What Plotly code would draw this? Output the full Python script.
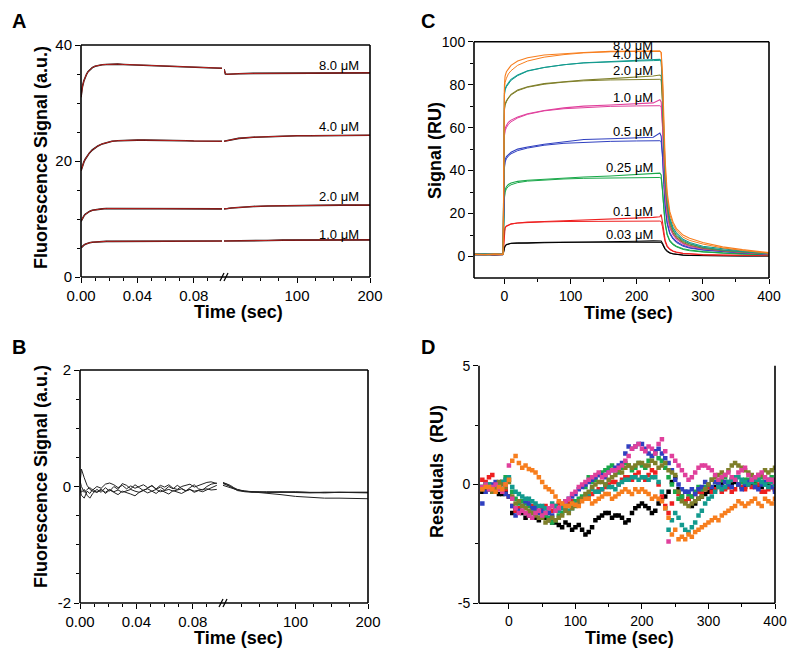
import plotly.graph_objects as go

# The page body has an 8 px margin, so the figure is 784x640 and placed at (8, 8).
OFF = 8
W, H = 784, 640
FONT = "Liberation Sans, Arial, Helvetica, sans-serif"

# ---------------- Panel A : stopped-flow fluorescence (split time axis) ----------------
A_T_LEFT = [0, 0.0005, 0.001, 0.002, 0.003, 0.004, 0.005, 0.006, 0.008, 0.010,
            0.012, 0.015, 0.018, 0.022, 0.026, 0.030, 0.035, 0.040, 0.045, 0.050,
            0.055, 0.060, 0.065, 0.070, 0.075, 0.080, 0.085, 0.090, 0.1]
A_T_RIGHT = [0, 2, 5, 10, 20, 40, 60, 80, 100, 120, 140, 160, 180, 200]
A_LABELS = ["8.0 μM", "4.0 μM", "2.0 μM", "1.0 μM"]
A_LABEL_Y = [36.4, 25.9, 13.9, 7.4]

A8_L = [31.0, 32.0, 32.8, 33.8, 34.5, 35.0, 35.4, 35.7, 36.1, 36.35,
        36.5, 36.6, 36.65, 36.7, 36.7, 36.65, 36.6, 36.55, 36.5, 36.45,
        36.4, 36.35, 36.3, 36.25, 36.2, 36.15, 36.1, 36.05, 36.0]
A4_L = [18.3, 18.8, 19.2, 19.8, 20.3, 20.7, 21.1, 21.4, 21.9, 22.3,
        22.6, 22.95, 23.2, 23.4, 23.5, 23.55, 23.6, 23.6, 23.6, 23.6,
        23.6, 23.55, 23.55, 23.5, 23.5, 23.45, 23.45, 23.4, 23.4]
A2_L = [9.6, 9.9, 10.1, 10.5, 10.8, 11.0, 11.2, 11.3, 11.5, 11.6,
        11.7, 11.75, 11.8, 11.8, 11.85, 11.85, 11.85, 11.85, 11.85, 11.85,
        11.85, 11.8, 11.8, 11.8, 11.8, 11.75, 11.75, 11.75, 11.75]
A1_L = [5.0, 5.15, 5.3, 5.5, 5.65, 5.75, 5.85, 5.9, 6.0, 6.05,
        6.1, 6.1, 6.15, 6.15, 6.15, 6.15, 6.15, 6.15, 6.15, 6.15,
        6.15, 6.15, 6.15, 6.15, 6.15, 6.15, 6.2, 6.2, 6.2]

A8_R = [35.8, 35.0, 34.95, 35.0, 35.05, 35.1, 35.1, 35.1, 35.15, 35.15, 35.15, 35.2, 35.2, 35.2]
A4_R = [23.4, 23.45, 23.55, 23.7, 23.9, 24.1, 24.2, 24.3, 24.35, 24.35, 24.4, 24.4, 24.45, 24.45]
A2_R = [11.75, 11.75, 11.8, 11.9, 12.0, 12.15, 12.25, 12.3, 12.35, 12.35, 12.4, 12.4, 12.4, 12.4]
A1_R = [6.2, 6.2, 6.2, 6.25, 6.25, 6.3, 6.3, 6.35, 6.35, 6.35, 6.4, 6.4, 6.4, 6.4]

# ---------------- Panel B : residuals of the stopped-flow fits ----------------
B_T_LEFT = [0, 0.001, 0.003, 0.005, 0.007, 0.009, 0.012, 0.015, 0.018, 0.021,
            0.024, 0.027, 0.030, 0.033, 0.036, 0.039, 0.042, 0.045, 0.048, 0.051,
            0.054, 0.057, 0.060, 0.063, 0.066, 0.069, 0.072, 0.075, 0.078, 0.081,
            0.084, 0.087, 0.090, 0.093, 0.097]
B_T_RIGHT = [0, 5, 10, 15, 20, 30, 40, 50, 60, 80, 100, 120, 140, 160, 180, 200]

B1_L = [0.05, 0.3, 0.15, 0.02, -0.05, -0.08, -0.1, -0.06, -0.1, -0.05,
        -0.09, -0.06, -0.1, -0.07, -0.05, -0.08, -0.1, -0.06, -0.04, -0.08,
        -0.05, -0.09, -0.07, -0.05, -0.08, -0.06, -0.04, -0.07, -0.05, -0.08,
        -0.06, -0.05, -0.04, -0.06, -0.05]
B2_L = [0.0, -0.1, -0.05, -0.15, -0.2, -0.12, -0.05, -0.1, -0.02, -0.08,
        0.0, -0.05, 0.05, 0.02, -0.04, 0.03, -0.02, -0.07, -0.03, 0.02,
        -0.05, -0.01, -0.06, 0.0, -0.04, 0.02, -0.03, -0.08, -0.02, 0.03,
        -0.04, -0.06, 0.0, 0.04, 0.06]
B3_L = [-0.05, -0.15, -0.2, -0.08, -0.12, -0.05, -0.1, -0.04, -0.12, -0.06,
        -0.1, -0.14, -0.08, -0.1, -0.13, -0.16, -0.1, -0.07, -0.11, -0.08,
        -0.12, -0.06, -0.09, -0.13, -0.07, -0.1, -0.12, -0.08, -0.05, -0.1,
        -0.07, -0.09, -0.06, -0.03, 0.02]
B4_L = [0.1, 0.0, -0.1, -0.05, -0.02, -0.06, 0.0, -0.03, 0.04, 0.06,
        0.03, -0.02, 0.02, -0.04, 0.01, -0.03, 0.0, 0.03, -0.02, 0.01,
        -0.04, 0.02, -0.01, 0.03, -0.03, -0.05, 0.0, 0.02, 0.04, -0.01,
        0.02, 0.05, 0.07, 0.08, 0.05]

B1_R = [0.06, 0.04, 0.0, -0.04, -0.07, -0.09, -0.1, -0.09, -0.1, -0.1, -0.09, -0.1, -0.1, -0.09, -0.1, -0.1]
B2_R = [0.07, 0.05, 0.02, -0.02, -0.05, -0.08, -0.09, -0.1, -0.09, -0.1, -0.1, -0.11, -0.1, -0.1, -0.11, -0.1]
B3_R = [0.02, 0.0, -0.03, -0.05, -0.06, -0.08, -0.09, -0.1, -0.11, -0.14, -0.17, -0.19, -0.2, -0.2, -0.21, -0.21]
B4_R = [0.05, 0.03, 0.0, -0.03, -0.06, -0.08, -0.09, -0.09, -0.1, -0.09, -0.1, -0.1, -0.11, -0.1, -0.1, -0.11]

# ---------------- Panel C : SPR sensorgrams (data + fit) ----------------
C_T = [-45, -30, -15, -2, 0, 1, 3, 6, 10, 20, 35, 60, 90, 120, 160, 200, 225, 235,
       237, 239, 241, 243, 246, 250, 255, 260, 270, 280, 300, 330, 360, 400]
C_LABELS = ["0.03 μM", "0.1 μM", "0.25 μM", "0.5 μM", "1.0 μM", "2.0 μM", "4.0 μM", "8.0 μM"]
C_LABEL_Y = [10.3, 20.9, 41.5, 58.4, 74.0, 86.4, 94.0, 98.0]
C_COLORS = ["#000000", "#ee2020", "#1aa84a", "#3040c0", "#e0409c", "#7f7f2a", "#139a8e", "#f77e1e"]

C003_D = [0.8, 1.0, 0.7, 0.9, 4, 5, 5.6, 6, 6.2, 6.3, 6.2, 6.4, 6.5, 6.6, 6.8, 7.1, 7.3, 7.5,
          7.2, 6.2, 4.8, 3.6, 2.6, 1.8, 1.3, 1.0, 0.7, 0.5, 0.4, 0.3, 0.3, 0.3]
C003_F = [0.8, 0.8, 0.8, 0.8, 3.8, 4.8, 5.4, 5.8, 6.1, 6.3, 6.5, 6.6, 6.7, 6.75, 6.8, 6.8, 6.8, 6.8,
          6.6, 5.6, 4.3, 3.2, 2.3, 1.6, 1.2, 0.9, 0.6, 0.5, 0.4, 0.3, 0.3, 0.3]
C01_D = [1.2, 1.0, 0.8, 1.0, 12, 13.5, 14.2, 14.8, 15.2, 15.6, 16, 16.3, 16.6, 16.9, 17.3, 17.8, 18.2, 18.5,
         19.5, 16, 11, 7.5, 5, 3.5, 2.6, 2.1, 1.5, 1.2, 0.9, 0.7, 0.6, 0.5]
C01_F = [1.0, 1.0, 1.0, 1.0, 11.5, 13.2, 14, 14.6, 15.1, 15.6, 15.9, 16.1, 16.3, 16.4, 16.5, 16.5, 16.5, 16.5,
         16.3, 13.8, 9.8, 6.8, 4.5, 3.2, 2.4, 1.9, 1.4, 1.1, 0.8, 0.6, 0.5, 0.4]
C025_D = [1.0, 1.1, 0.9, 1.0, 28, 31, 32.5, 33.5, 34.2, 35, 35.5, 36, 36.5, 37, 37.5, 38.3, 38.5, 38.8,
          38.0, 32, 23, 16, 10.5, 7.5, 5.8, 4.8, 3.6, 3, 2.3, 1.7, 1.3, 0.9]
C025_F = [1.0, 1.0, 1.0, 1.0, 27, 30, 31.5, 32.6, 33.4, 34.4, 35.1, 35.7, 36.1, 36.4, 36.6, 36.7, 36.8, 36.8,
          36.4, 31, 22, 15, 10, 7, 5.4, 4.5, 3.3, 2.7, 2.1, 1.5, 1.1, 0.8]
C05_D = [1.0, 0.9, 1.2, 1.0, 42, 45, 46.5, 47.5, 48.5, 50, 51, 52.3, 53.5, 54.5, 54.8, 55.2, 55.5, 57.5,
         56.0, 48, 35, 24, 16, 11, 8.5, 7, 5.2, 4.2, 3.2, 2.4, 1.8, 1.2]
C05_F = [1.0, 1.0, 1.0, 1.0, 41, 44, 45.5, 46.8, 47.8, 49.3, 50.5, 51.8, 52.7, 53.2, 53.6, 53.8, 53.9, 53.9,
         53.5, 46, 33.5, 23, 15.3, 10.5, 8, 6.5, 4.8, 3.9, 3, 2.2, 1.6, 1.0]
C1_D = [1.0, 1.2, 0.8, 1.0, 57, 59.5, 61, 62.5, 63.5, 65, 66.5, 68, 69.2, 70, 70.5, 71, 71.5, 73,
        72.0, 62, 45, 31, 20.5, 14, 10.5, 8.5, 6.2, 5, 3.8, 2.8, 2, 1.3]
C1_F = [1.0, 1.0, 1.0, 1.0, 56, 58.5, 60, 61.5, 62.7, 64.5, 66.2, 67.8, 68.8, 69.4, 69.9, 70.1, 70.2, 70.2,
        69.7, 60, 43, 29.5, 19.5, 13.2, 10, 8, 5.8, 4.7, 3.5, 2.5, 1.8, 1.1]
C2_D = [1.2, 0.9, 1.1, 1.0, 69, 71, 72.5, 74, 75.5, 77.5, 79, 80.5, 81.5, 82.2, 82.8, 83.5, 84, 84.5,
        84.0, 73, 53, 36, 24, 16, 12, 9.5, 7, 5.8, 4.2, 3, 2.2, 1.4]
C2_F = [1.0, 1.0, 1.0, 1.0, 68, 70.5, 72, 73.8, 75.2, 77.2, 78.8, 80.2, 81.2, 81.8, 82.2, 82.4, 82.5, 82.5,
        82.0, 71, 51, 34, 22.5, 15, 11, 8.8, 6.5, 5.3, 3.8, 2.7, 2, 1.2]
C4_D = [1.0, 1.3, 0.9, 1.1, 76, 78, 79.5, 81, 82.5, 84.5, 86.5, 88, 89.3, 90.2, 90.8, 91.2, 91.5, 91.8,
        91.0, 80, 58, 40, 27, 18, 13.5, 11, 8, 6.5, 4.8, 3.5, 2.5, 1.5]
C4_F = [1.0, 1.0, 1.0, 1.0, 75, 77.5, 79, 80.5, 82, 84.2, 86.3, 88, 89.3, 90.1, 90.7, 91.0, 91.2, 91.3,
        90.8, 78, 56, 38, 25.5, 17, 12.5, 10, 7.5, 6, 4.3, 3, 2.2, 1.3]
C8_D = [1.0, 0.8, 1.2, 1.0, 80, 84, 86, 87.5, 89, 91, 92.5, 93.8, 94.5, 95, 95.5, 95.6, 95.5, 95.6,
        95.0, 85, 65, 45, 30, 21, 16, 13, 10, 8.5, 6.5, 4.5, 3.2, 1.8]
C8_F = [1.0, 1.0, 1.0, 1.0, 78, 81, 83, 85, 86.5, 89, 91, 92.8, 94, 94.8, 95.3, 95.5, 95.6, 95.6,
        95.0, 82, 60, 42, 28, 19.5, 15, 12, 9, 7.5, 5.8, 4, 2.8, 1.5]

# ---------------- Panel D : residuals of SPR fits ----------------
D_T = [-40, -30, -20, -10, 0, 10, 20, 30, 40, 50, 60, 70, 80, 90, 100, 110, 120, 130, 140, 150,
       160, 170, 180, 190, 200, 210, 220, 230, 240, 250, 260, 270, 280, 290, 300, 310, 320, 330,
       340, 350, 360, 370, 380, 390, 400]
D_T_MID = [-35, -25, -15, -5, 5, 15, 25, 35, 45, 55, 65, 75, 85, 95, 105, 115, 125, 135, 145, 155,
           165, 175, 185, 195, 205, 215, 225, 235, 245, 255, 265, 275, 285, 295, 305, 315, 325, 335,
           345, 355, 365, 375, 385, 395]

D_BLACK = [-0.3, -0.2, -0.3, -0.4, -0.5, -1.0, -1.2, -1.3, -1.4, -1.3,
           -1.5, -1.6, -1.8, -1.7, -1.8, -1.9, -2.0, -1.5, -1.3, -1.2,
           -1.3, -1.4, -1.5, -1.0, -0.8, -1.0, -1.1, -0.6, -0.3, 0.3,
           -0.5, -0.6, -0.8, -0.5, -0.3, -0.1, 0.0, -0.1, 0.1, -0.1,
           0.0, 0.1, -0.1, 0.0, -0.2]
D_BLACK_MID = [-0.2, -0.3, -0.4, -0.3, -1.2, -1.1, -1.4, -1.2, -1.5, -1.4,
               -1.6, -1.7, -1.6, -1.9, -1.7, -2.1, -1.8, -1.4, -1.2, -1.4,
               -1.3, -1.6, -1.2, -0.9, -0.9, -1.2, -0.8, -0.5, 0.1, -0.2,
               -0.7, -0.9, -0.6, -0.4, -0.2, 0.0, -0.1, 0.0, 0.0, -0.1,
               0.0, -0.1, 0.1, -0.1]
D_RED = [0.2, 0.3, 0.0, 0.1, -0.5, -1.1, -0.9, -0.8, -0.9, -1.0,
         -1.0, -0.9, -0.9, -0.8, -0.7, -0.6, -0.5, -0.3, -0.2, 0.0,
         0.1, 0.2, 0.3, 0.4, 0.3, 0.4, 0.5, -0.5, -1.2, -0.3,
         -0.5, -0.6, -0.4, -0.3, -0.1, -0.2, -0.3, -0.1, -0.2, -0.1,
         0.0, -0.1, -0.3, -0.2, -0.2]
D_RED_MID = [0.1, 0.4, 0.0, -0.2, -0.9, -1.0, -0.7, -0.9, -1.1, -0.9,
             -1.1, -0.8, -1.0, -0.7, -0.8, -0.5, -0.4, -0.2, -0.1, 0.1,
             0.0, 0.3, 0.2, 0.5, 0.2, 0.6, 0.0, -0.9, -0.8, -0.4,
             -0.7, -0.5, -0.3, -0.2, -0.3, -0.1, -0.2, -0.3, 0.0, -0.2,
             -0.1, 0.0, -0.3, -0.1]
D_GREEN = [-0.1, 0.0, -0.2, 0.1, 0.2, -0.6, -0.7, -0.9, -1.1, -1.2,
           -1.4, -1.5, -1.2, -0.9, -0.7, -0.5, 0.3, 0.2, 0.5, 0.7,
           0.6, 0.7, 0.8, 0.7, 0.8, 1.0, 1.3, 1.0, 0.3, -0.3,
           -0.5, -0.4, -0.3, -0.2, 0.0, 0.1, 0.2, 0.1, 0.3, 0.1,
           0.2, 0.0, 0.3, 0.1, 0.2]
D_GREEN_MID = [0.0, -0.1, 0.0, 0.3, -0.3, -0.8, -0.8, -1.0, -1.2, -1.3,
               -1.6, -1.3, -1.1, -0.8, -0.6, -0.1, 0.1, 0.4, 0.6, 0.8,
               0.5, 0.9, 0.6, 0.9, 0.7, 1.2, 1.1, 0.7, 0.0, -0.6,
               -0.3, -0.5, -0.1, -0.1, 0.2, 0.0, 0.3, 0.2, 0.0, 0.2,
               0.1, 0.2, 0.0, 0.3]
D_BLUE = [-0.8, -0.1, 0.1, -0.2, -0.5, -1.3, -0.9, -0.8, -1.0, -1.1,
          -1.2, -1.1, -0.9, -0.6, -0.4, -0.1, 0.1, 0.3, 0.4, 0.5,
          0.7, 0.9, 1.6, 1.6, 1.7, 1.3, 1.4, 1.3, 0.9, 0.2,
          -0.2, -0.3, -0.4, -0.1, 0.0, 0.1, -0.1, 0.0, 0.2, -0.2,
          0.1, -0.1, 0.0, 0.2, -0.3]
D_BLUE_MID = [-0.3, 0.0, -0.1, -0.4, -0.9, -1.1, -0.7, -1.0, -1.2, -1.0,
              -1.3, -1.0, -0.7, -0.5, -0.2, 0.0, 0.2, 0.4, 0.3, 0.6,
              0.8, 1.3, 1.5, 1.7, 1.5, 1.2, 1.5, 1.1, 0.6, 0.0,
              -0.3, -0.2, -0.2, 0.1, -0.1, 0.0, 0.1, -0.1, 0.0, 0.0,
              0.2, -0.2, 0.1, -0.1]
D_MAGENTA = [-0.1, -0.2, 0.0, -0.3, 0.8, -1.0, -1.1, -1.3, -1.2, -1.3,
             -1.0, -1.1, -0.8, -0.6, -0.3, 0.0, 0.2, 0.4, 0.3, 0.5,
             0.6, 0.8, 1.2, 1.6, 1.5, 1.6, 1.3, 1.9, -2.4, 1.0,
             0.6, 0.2, 0.5, 0.8, 0.7, 0.4, 0.3, 0.5, 0.2, 0.6,
             0.4, 0.3, 0.5, 0.2, 0.1]
D_MAGENTA_MID = [0.0, -0.1, -0.2, 0.0, -0.6, -1.2, -1.2, -1.4, -1.1, -1.2,
                 -0.9, -1.0, -0.7, -0.4, -0.1, 0.1, 0.3, 0.5, 0.4, 0.6,
                 0.7, 1.0, 1.5, 1.7, 1.4, 1.5, 1.7, 1.4, 1.2, 0.8,
                 0.4, 0.3, 0.7, 0.8, 0.6, 0.2, 0.4, 0.3, 0.5, 0.7,
                 0.2, 0.4, 0.3, 0.2]
D_OLIVE = [-0.2, -0.1, -0.2, 0.0, 0.1, -0.8, -0.9, -1.1, -1.3, -1.4,
           -1.5, -1.5, -1.3, -1.2, -0.9, -0.6, -0.3, 0.0, 0.1, 0.2,
           0.4, 0.5, 0.8, 0.8, 0.9, 0.8, 0.9, 0.8, 0.6, 0.4,
           -0.7, -0.9, -0.7, -0.5, 0.0, 0.3, 0.5, 0.6, 0.9, 0.7,
           0.5, 0.3, 0.4, 0.5, 0.7]
D_OLIVE_MID = [-0.1, -0.3, 0.1, -0.1, -0.5, -0.7, -1.0, -1.2, -1.4, -1.6,
               -1.4, -1.4, -1.1, -1.0, -0.7, -0.4, -0.1, 0.1, 0.0, 0.3,
               0.6, 0.7, 0.7, 0.9, 0.8, 1.0, 0.7, 0.9, 0.5, -0.3,
               -0.8, -0.8, -0.6, -0.2, 0.2, 0.4, 0.4, 0.8, 0.8, 0.6,
               0.4, 0.4, 0.6, 0.6]
D_TEAL = [-0.1, 0.0, -0.2, 0.1, 0.3, -0.3, -0.5, -0.6, -0.8, -0.9,
          -1.0, -0.9, -1.0, -1.1, -0.8, -0.6, -0.4, -0.3, -0.2, -0.1,
          -0.2, 0.1, 0.2, 0.3, 0.3, 0.2, 0.3, -0.3, -1.9, -1.2,
          -1.7, -2.0, -1.6, -1.1, -0.6, -0.3, -0.2, 0.1, 0.3, 0.2,
          0.0, 0.2, 0.1, -0.1, 0.0]
D_TEAL_MID = [0.0, -0.1, 0.0, 0.2, -0.1, -0.4, -0.6, -0.7, -0.9, -1.0,
              -0.8, -1.1, -0.9, -1.0, -0.7, -0.5, -0.2, -0.3, 0.0, -0.1,
              0.0, 0.2, 0.3, 0.2, 0.3, 0.3, 0.1, -1.0, -1.5, -1.4,
              -1.9, -1.8, -1.3, -0.8, -0.5, -0.1, -0.1, 0.2, 0.3, 0.1,
              0.1, 0.2, 0.0, 0.1]
D_ORANGE = [-0.2, -0.1, -0.3, -0.2, 0.2, 1.2, 0.7, 0.65, 0.5, 0.1,
            -0.2, -0.5, -0.8, -0.9, -0.85, -0.7, -0.6, -0.7, -0.5, -0.4,
            -0.5, -0.3, -0.3, -0.2, -0.2, -0.4, -0.5, -0.7, -1.4, -1.9,
            -2.2, -2.1, -2.0, -1.8, -1.6, -1.4, -1.3, -1.1, -0.9, -0.8,
            -0.8, -0.6, -0.9, -0.7, -0.6]
D_ORANGE_MID = [-0.1, -0.2, -0.1, 0.0, 1.0, 0.9, 0.8, 0.6, 0.3, -0.1,
                -0.3, -0.7, -0.9, -0.8, -0.9, -0.6, -0.8, -0.6, -0.4, -0.6,
                -0.4, -0.2, -0.4, -0.3, -0.3, -0.6, -0.6, -1.0, -2.1, -2.3,
                -2.3, -2.2, -1.9, -1.7, -1.5, -1.5, -1.2, -1.0, -0.7, -0.9,
                -0.7, -0.8, -0.6, -0.8]


def fx(p):
    return (p - OFF) / W


def fy(p):
    return 1 - (p - OFF) / H


fig = go.Figure()

# Panel A traces
for left, right in [(A8_L, A8_R), (A4_L, A4_R), (A2_L, A2_R), (A1_L, A1_R)]:
    fig.add_trace(go.Scatter(x=A_T_LEFT, y=left, xaxis="x", yaxis="y", mode="lines",
                             line=dict(color="#111111", width=1.6)))
    fig.add_trace(go.Scatter(x=A_T_LEFT, y=left, xaxis="x", yaxis="y", mode="lines",
                             line=dict(color="#e8231f", width=0.8)))
    fig.add_trace(go.Scatter(x=A_T_RIGHT, y=right, xaxis="x2", yaxis="y", mode="lines",
                             line=dict(color="#111111", width=1.6)))
    fig.add_trace(go.Scatter(x=A_T_RIGHT, y=right, xaxis="x2", yaxis="y", mode="lines",
                             line=dict(color="#e8231f", width=0.8)))

# Panel B traces
for left, right in [(B1_L, B1_R), (B2_L, B2_R), (B3_L, B3_R), (B4_L, B4_R)]:
    fig.add_trace(go.Scatter(x=B_T_LEFT, y=left, xaxis="x3", yaxis="y2", mode="lines",
                             line=dict(color="#222222", width=1)))
    fig.add_trace(go.Scatter(x=B_T_RIGHT, y=right, xaxis="x4", yaxis="y2", mode="lines",
                             line=dict(color="#222222", width=1)))

# Panel C traces
C_DATA = [C003_D, C01_D, C025_D, C05_D, C1_D, C2_D, C4_D, C8_D]
C_FIT = [C003_F, C01_F, C025_F, C05_F, C1_F, C2_F, C4_F, C8_F]
for d, f, col in zip(C_DATA, C_FIT, C_COLORS):
    fig.add_trace(go.Scatter(x=C_T, y=f, xaxis="x5", yaxis="y3", mode="lines",
                             line=dict(color=col, width=1)))
    fig.add_trace(go.Scatter(x=C_T, y=d, xaxis="x5", yaxis="y3", mode="lines",
                             line=dict(color=col, width=1.1)))

# Panel D traces
D_SERIES = [(D_BLACK, D_BLACK_MID, "#000000"), (D_RED, D_RED_MID, "#ee2020"),
            (D_GREEN, D_GREEN_MID, "#1aa84a"), (D_BLUE, D_BLUE_MID, "#3040c0"),
            (D_TEAL, D_TEAL_MID, "#139a8e"), (D_OLIVE, D_OLIVE_MID, "#7f7f2a"),
            (D_MAGENTA, D_MAGENTA_MID, "#e0409c"), (D_ORANGE, D_ORANGE_MID, "#f77e1e")]
for vals, mid, col in D_SERIES:
    fig.add_trace(go.Scatter(x=D_T + D_T_MID, y=vals + mid, xaxis="x6", yaxis="y4", mode="markers",
                             marker=dict(symbol="square", size=4.5, color=col, line=dict(width=0))))

TICKFONT_AB = dict(family=FONT, size=15, color="black")
TICKFONT_CD = dict(family=FONT, size=14, color="black")
common = dict(showgrid=False, zeroline=False, showline=False, ticks="outside", ticklen=5,
              tickwidth=1.3, tickcolor="black", automargin=False)


def minor(**kw):
    d = dict(ticks="outside", ticklen=3, tickwidth=1.1, tickcolor="black", showgrid=False)
    d.update(kw)
    return d


layout = dict(
    template="none",
    width=W, height=H, margin=dict(l=0, r=0, t=0, b=0, pad=0),
    paper_bgcolor="white", plot_bgcolor="white", showlegend=False,
    font=dict(family=FONT, color="black"),
    # Panel A
    xaxis=dict(domain=[fx(81), fx(222)], range=[0, 0.1], anchor="y", tickmode="array",
               tickvals=[0, 0.04, 0.08], ticktext=["0.00", "0.04", "0.08"], tickfont=TICKFONT_AB,
               minor=minor(tickmode="array", tickvals=[0.01, 0.02, 0.03, 0.05, 0.06, 0.07, 0.09]), **common),
    xaxis2=dict(domain=[fx(224), fx(370)], range=[0, 200], anchor="y", tickmode="array",
                tickvals=[100, 200], ticktext=["100", "200"], tickfont=TICKFONT_AB,
                minor=minor(tickmode="array", tickvals=[25, 50, 75, 125, 150, 175]), **common),
    yaxis=dict(domain=[fy(277), fy(45)], range=[0, 40], anchor="x", tickmode="array",
               tickvals=[0, 20, 40], ticktext=["0", "20", "40"], tickfont=TICKFONT_AB,
               minor=minor(tickmode="array", tickvals=[5, 10, 15, 25, 30, 35]), **common),
    # Panel B
    xaxis3=dict(domain=[fx(80), fx(221)], range=[0, 0.1], anchor="y2", tickmode="array",
                tickvals=[0, 0.04, 0.08], ticktext=["0.00", "0.04", "0.08"], tickfont=TICKFONT_AB,
                minor=minor(tickmode="array", tickvals=[0.01, 0.02, 0.03, 0.05, 0.06, 0.07, 0.09]), **common),
    xaxis4=dict(domain=[fx(223), fx(368)], range=[0, 200], anchor="y2", tickmode="array",
                tickvals=[100, 200], ticktext=["100", "200"], tickfont=TICKFONT_AB,
                minor=minor(tickmode="array", tickvals=[25, 50, 75, 125, 150, 175]), **common),
    yaxis2=dict(domain=[fy(603), fy(370)], range=[-2, 2], anchor="x3", tickmode="array",
                tickvals=[-2, 0, 2], ticktext=["-2", "0", "2"], tickfont=TICKFONT_AB,
                minor=minor(tickmode="array", tickvals=[-1.5, -1, -0.5, 0.5, 1, 1.5]), **common),
    # Panel C
    xaxis5=dict(domain=[fx(474), fx(769)], range=[-46, 400], anchor="y3", tickmode="array",
                tickvals=[0, 100, 200, 300, 400], ticktext=["0", "100", "200", "300", "400"],
                tickfont=TICKFONT_CD, minor=minor(tickmode="array", tickvals=[50, 150, 250, 350]), **common),
    yaxis3=dict(domain=[fy(278), fy(41.7)], range=[-10, 100], anchor="x5", tickmode="array",
                tickvals=[0, 20, 40, 60, 80, 100], ticktext=["0", "20", "40", "60", "80", "100"],
                tickfont=TICKFONT_CD, minor=minor(tickmode="array", tickvals=[10, 30, 50, 70, 90]), **common),
    # Panel D
    xaxis6=dict(domain=[fx(479), fx(775)], range=[-45, 400], anchor="y4", tickmode="array",
                tickvals=[0, 100, 200, 300, 400], ticktext=["0", "100", "200", "300", "400"],
                tickfont=TICKFONT_CD, minor=minor(tickmode="array", tickvals=[50, 150, 250, 350]), **common),
    yaxis4=dict(domain=[fy(603.3), fy(365.7)], range=[-5, 5], anchor="x6", tickmode="array",
                tickvals=[-5, 0, 5], ticktext=["-5", "0", "5"],
                tickfont=TICKFONT_CD, minor=minor(tickmode="array", tickvals=[-2.5, 2.5]), **common),
)
fig.update_layout(**layout)

LW = 1.6
shapes = []


def frame(x0, y0, x1, y1, top=True):
    segs = [(x0, y0, x0, y1), (x0, y1, x1, y1), (x1, y0, x1, y1)]
    if top:
        segs.append((x0, y0, x1, y0))
    for a, b, c, d in segs:
        shapes.append(dict(type="line", xref="paper", yref="paper", x0=fx(a), y0=fy(b), x1=fx(c), y1=fy(d),
                           line=dict(color="black", width=LW)))


frame(81, 45, 370, 277)
frame(80, 370, 368, 603)
frame(474, 41.7, 769, 278)
frame(479, 365.7, 775, 603.3, top=False)

# axis-break marks "//"
for (bx, by) in [(220, 277), (219, 603)]:
    for dx in (0, 4):
        shapes.append(dict(type="line", xref="paper", yref="paper",
                           x0=fx(bx + dx), y0=fy(by + 4), x1=fx(bx + dx + 4), y1=fy(by - 4),
                           line=dict(color="black", width=1.3)))
fig.update_layout(shapes=shapes)

ann = []
# concentration labels
for lab, yv in zip(A_LABELS, A_LABEL_Y):
    ann.append(dict(x=188, y=yv, xref="x2", yref="y", text=lab, showarrow=False, xanchor="right",
                    yanchor="middle", font=dict(family=FONT, size=13, color="black")))
for lab, yv in zip(C_LABELS, C_LABEL_Y):
    ann.append(dict(x=228, y=yv, xref="x5", yref="y3", text=lab, showarrow=False, xanchor="right",
                    yanchor="middle", font=dict(family=FONT, size=13, color="black")))


def pann(text, x, y, angle=0, size=18):
    ann.append(dict(x=fx(x), y=fy(y), xref="paper", yref="paper", text=text, showarrow=False,
                    xanchor="center", yanchor="middle", textangle=angle,
                    font=dict(family=FONT, size=size, color="black")))


pann("<b>Time (sec)</b>", 238, 312)
pann("<b>Time (sec)</b>", 238, 638)
pann("<b>Time (sec)</b>", 628, 313)
pann("<b>Time (sec)</b>", 629, 638)
pann("<b>Fluorescence Signal (a.u.)</b>", 41, 158, -90)
pann("<b>Fluorescence Signal (a.u.)</b>", 41, 477, -90)
pann("<b>Signal (RU)</b>", 435, 150, -90)
pann("<b>Residuals  (RU)</b>", 437, 472, -90)
pann("<b>A</b>", 19, 21, size=20)
pann("<b>B</b>", 19, 347, size=20)
pann("<b>C</b>", 428, 21, size=20)
pann("<b>D</b>", 428, 347, size=20)
fig.update_layout(annotations=ann)

fig.write_html("out.html")
